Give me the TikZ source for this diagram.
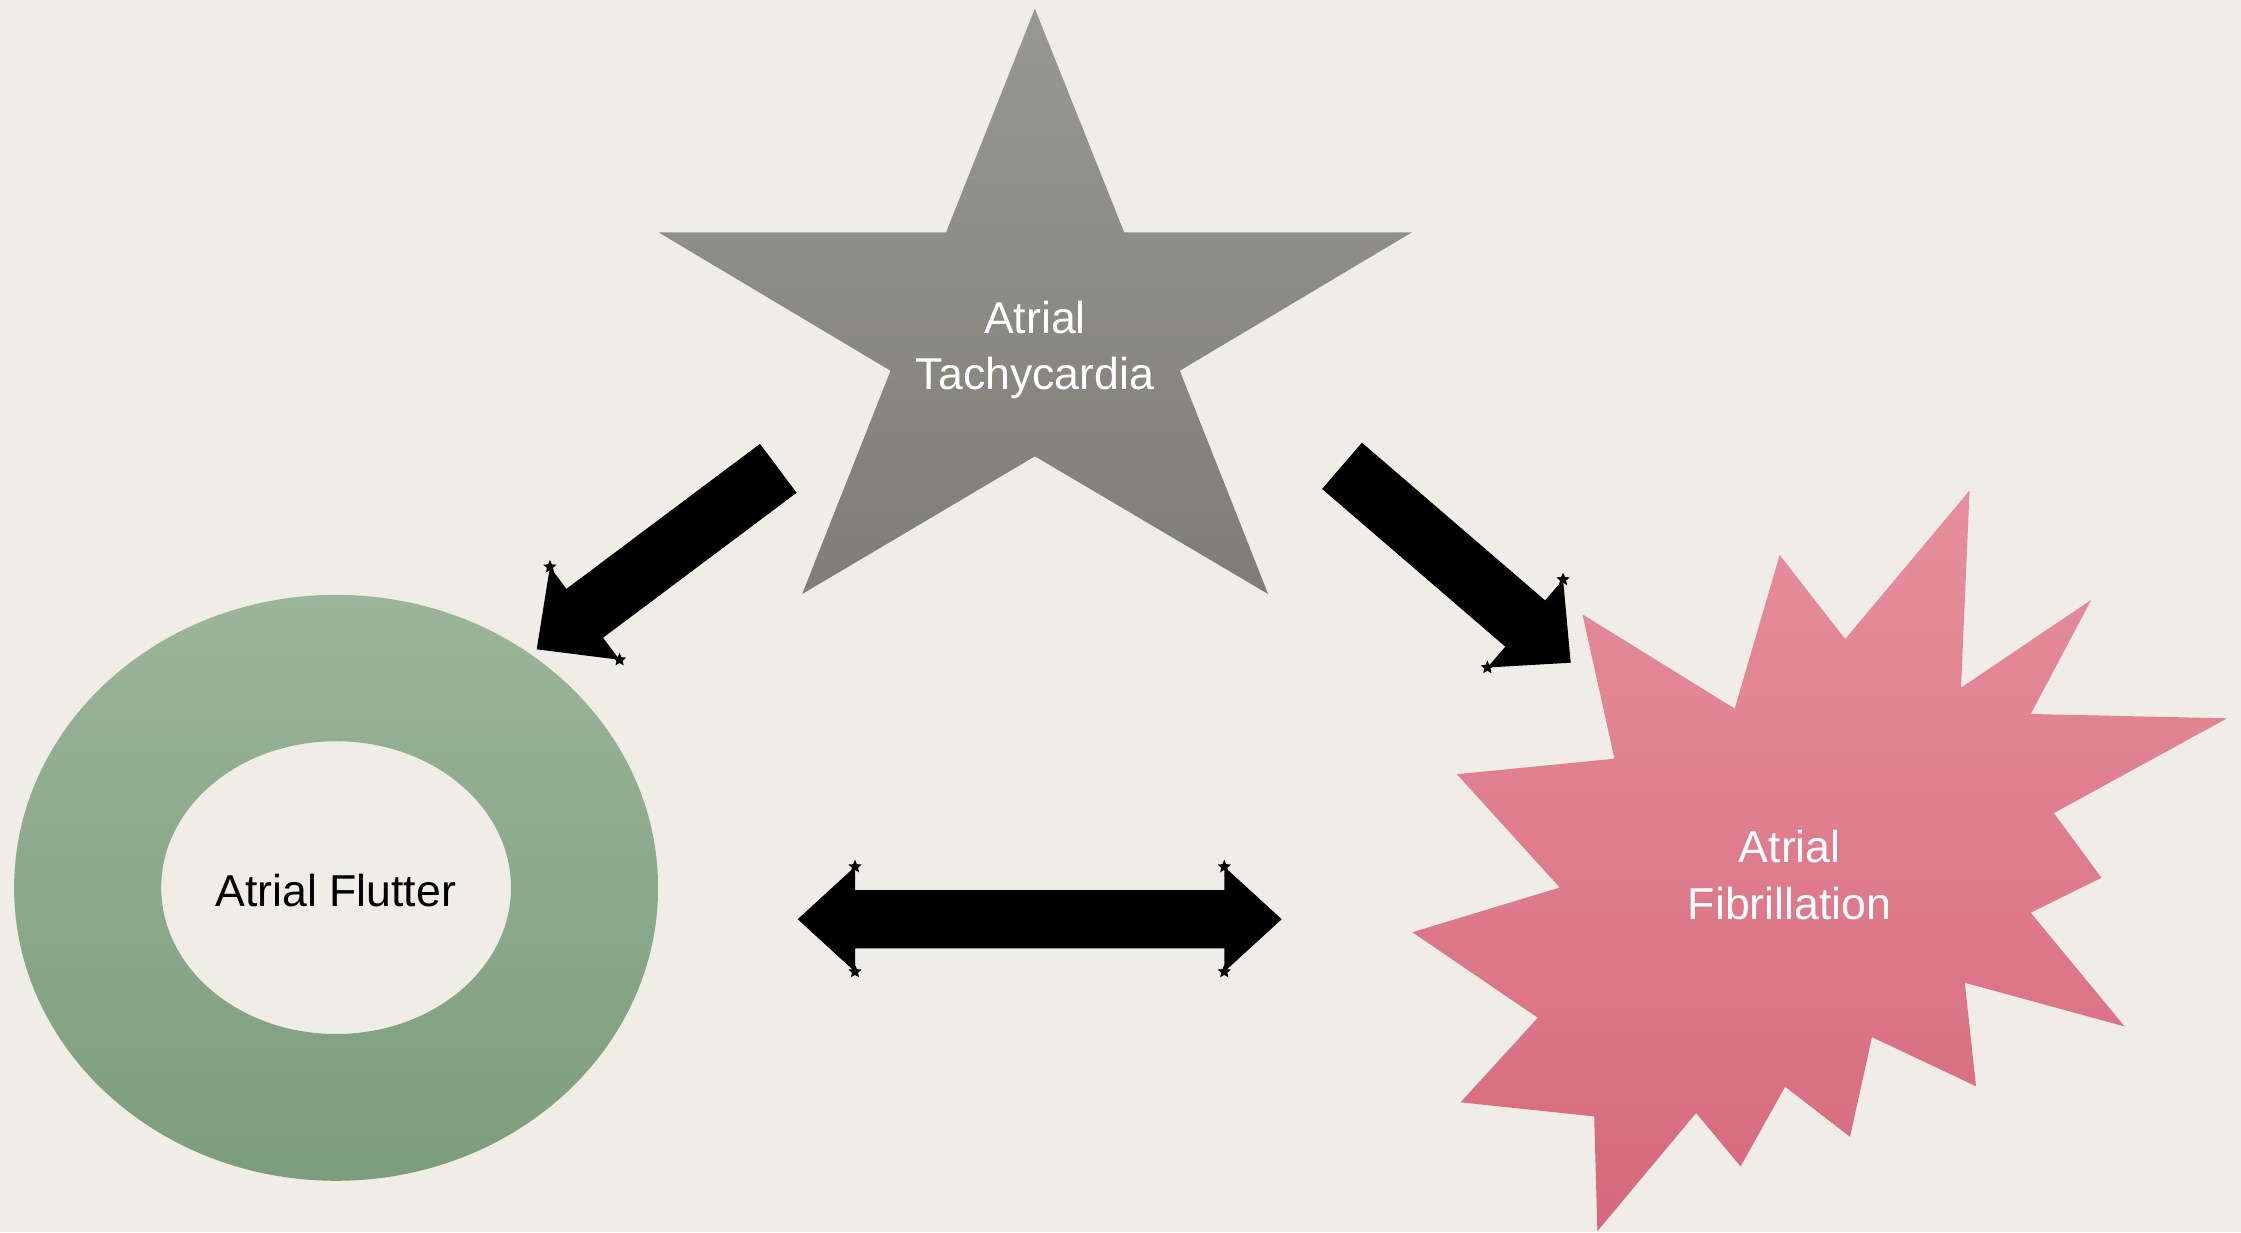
\documentclass[tikz,border=0pt]{standalone}
\usepackage{fontspec}
\setmainfont{Liberation Sans}
\usetikzlibrary{calc,shapes.geometric}
\definecolor{bg}{HTML}{EFEDE5}
\definecolor{startop}{HTML}{989893}
\definecolor{starbot}{HTML}{7E7E76}
\definecolor{greentop}{HTML}{9BB59A}
\definecolor{greenbot}{HTML}{7C9D7D}
\definecolor{pinktop}{HTML}{E68F9D}
\definecolor{pinkbot}{HTML}{D6697D}
\tikzset{
  arrowfill/.style={fill=black},
  tinystar/.style={star, star points=5, star point ratio=2.2, fill=black, minimum size=0.14cm, inner sep=0pt},
  lbl/.style={font=\fontsize{12.7pt}{16.1pt}\selectfont, align=center, inner sep=0pt}
}
\newcommand\myblockarrow[1]{%
  \coordinate (#1j) at ($(#1h)!0.60cm!(#1t)$);
  \coordinate (#1b1) at ($(#1j)!0.58cm!90:(#1h)$);
  \coordinate (#1b2) at ($(#1j)!0.58cm!-90:(#1h)$);
  \fill[arrowfill] ($(#1t)!0.305cm!90:(#1h)$) -- ($(#1j)!0.305cm!90:(#1h)$) -- (#1b1) -- (#1h) -- (#1b2) -- ($(#1j)!0.305cm!-90:(#1h)$) -- ($(#1t)!0.305cm!-90:(#1h)$) -- cycle;
  \node[tinystar] (#1s1) at (#1b1) {};
  \node[tinystar] (#1s2) at (#1b2) {};
}
\begin{document}
\begin{tikzpicture}[x=0.01cm,y=-0.01cm]
\fill[bg] (0,0) rectangle (2241,1232);
\useasboundingbox (0,0) rectangle (2241,1232);

% star
\shade[top color=startop, bottom color=starbot]
  (1034.9,8.6) -- (1124.2,232.3) -- (1411.9,232.3) -- (1179.8,370.7) -- (1268.1,594.0)
  -- (1034.9,456.3) -- (802.2,594.0) -- (890.5,370.7) -- (658.4,232.3) -- (946.1,232.3) -- cycle;

% ring
\shade[top color=greentop, bottom color=greenbot, even odd rule]
  (336.1,887.8) ellipse [x radius=3.218cm, y radius=2.928cm]
  (336.1,887.6) ellipse [x radius=1.748cm, y radius=1.463cm];

% starburst
\shade[top color=pinktop, bottom color=pinkbot]
  (1969.6,490.4) -- (1961.0,687.7) -- (2091.3,599.8) -- (2030.7,714.0) -- (2227.0,718.3)
  -- (2053.8,813.1) -- (2101.5,877.7) -- (2030.7,912.7) -- (2124.6,1026.4) -- (1964.8,982.7)
  -- (1976.0,1086.2) -- (1872.0,1037.1) -- (1850.0,1136.8) -- (1785.1,1086.7) -- (1740.6,1166.4)
  -- (1696.1,1113.0) -- (1597.4,1231.1) -- (1594.2,1116.4) -- (1460.6,1102.3) -- (1537.8,1017.7)
  -- (1412.3,932.2) -- (1559.8,887.5) -- (1456.9,774.2) -- (1614.5,758.7) -- (1582.4,614.3)
  -- (1734.7,708.6) -- (1779.7,555.0) -- (1845.2,639.1) -- cycle;

% labels
\node[lbl, text=white] (tach) at (1035,350) {Atrial\\Tachycardia};
\node[lbl, text=black] (flut) at (335.7,890.4) {Atrial Flutter};
\node[lbl, text=white] (fib) at (1789.7,875) {Atrial\\Fibrillation};

% diagonal block arrows
\coordinate (alt) at (778.3,468.3);
\coordinate (alh) at (536.7,649.3);
\myblockarrow{al}
\coordinate (art) at (1342,465.8);
\coordinate (arh) at (1570.7,662.7);
\myblockarrow{ar}

% double block arrow
\coordinate (dl) at (797.7,919.2);
\coordinate (dr) at (1281.7,919.2);
\fill[arrowfill] (dl) -- ++(57.3,-52.5) -- ++(0,23.3) -- ($(dr)+(-57.4,-29.2)$) -- ++(0,-23.3)
  -- (dr) -- ++(-57.4,52.5) -- ++(0,-23.3) -- ($(dl)+(57.3,29.2)$) -- ++(0,23.3) -- cycle;
\node[tinystar] (ds1) at ($(dl)+(57.3,-52.5)$) {};
\node[tinystar] (ds2) at ($(dl)+(57.3,52.5)$) {};
\node[tinystar] (ds3) at ($(dr)+(-57.4,-52.5)$) {};
\node[tinystar] (ds4) at ($(dr)+(-57.4,52.5)$) {};
\end{tikzpicture}
\end{document}
